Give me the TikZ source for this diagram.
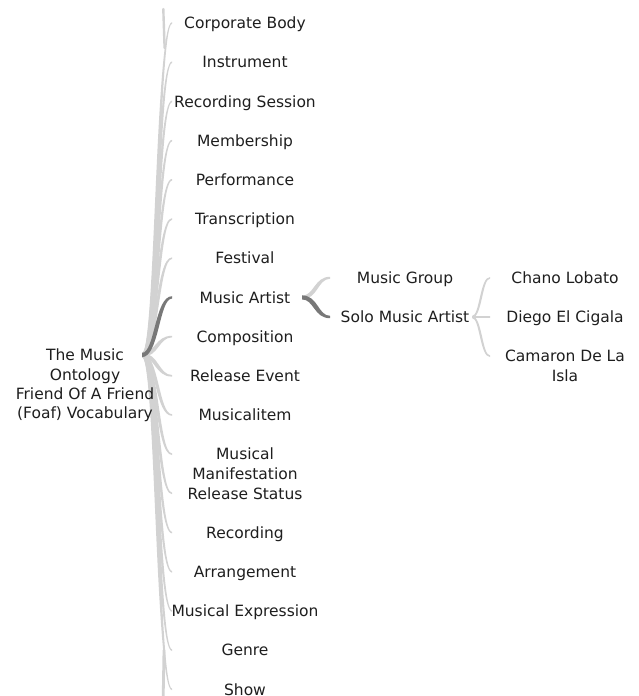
\documentclass[tikz,border=0pt]{standalone}
\usepackage{fontspec}
\setmainfont{DejaVu Sans}
\usetikzlibrary{calc}
\definecolor{linkc}{HTML}{D2D2D2}
\definecolor{linkd}{HTML}{787878}
\definecolor{txt}{HTML}{1E1E1E}
\newcommand\ribbon[5]{%
  \fill[#3] let \p1=(#1), \p2=(#2),
    \n1={(\x1+\x2)/2}, \n2={sign(\y1-\y2)}, \n3={(#4+#5)*0.65},
    \n4={\n1+\n2*\n3}, \n5={\n1-\n2*\n3} in
    (\x1,\y1+#4pt) .. controls (\n4*1pt,\y1+#4pt) and (\n4*1pt,\y2+#5pt) .. (\x2,\y2+#5pt)
    -- (\x2,\y2-#5pt) .. controls (\n5*1pt,\y2-#5pt) and (\n5*1pt,\y1-#4pt) .. (\x1,\y1-#4pt) -- cycle;}
\newcommand\lab[1]{\begin{tabular}[t]{@{}c@{}}#1\end{tabular}}
\begin{document}
\begin{tikzpicture}[x=1pt,y=-1pt,
  lbl/.style={anchor=base, inner sep=0pt, text=txt, font=\fontsize{15.5}{19.3}\selectfont}]
\useasboundingbox (0,0) rectangle (639,696);
% link anchor points
\coordinate (root-out) at (142,355);
\foreach \i in {0,...,17}{
  \pgfmathsetmacro\yy{23+39.2*\i}
  \coordinate (c\i-in) at (172,\yy);
}
\coordinate (ma-out) at (302,297.4);
\coordinate (mg-in) at (330,277.8);
\coordinate (sma-in) at (330,317);
\coordinate (sma-out) at (472,317);
\coordinate (cl-in) at (490,277.8);
\coordinate (dc-in) at (490,317);
\coordinate (cd-in) at (490,356.2);
% trunk ends
\coordinate (tt1) at (163.3,9);
\coordinate (tt2) at (164.6,48);
\coordinate (tb1) at (164,650);
\coordinate (tb2) at (163.2,697);
\draw[linkc, line width=2.4pt, line cap=round] (tt1) -- (tt2);
\draw[linkc, line width=2.8pt] (tb1) -- (tb2);
% links
\foreach \i in {0,1,2,3,4,5,6,8,9,10,11,12,13,14,15,16,17}{
  \ribbon{root-out}{c\i-in}{linkc}{1.9}{0.8}
}
\ribbon{ma-out}{mg-in}{linkc}{1.8}{1.0}
\ribbon{sma-out}{cl-in}{linkc}{1.0}{0.8}
\ribbon{sma-out}{dc-in}{linkc}{1.0}{0.8}
\ribbon{sma-out}{cd-in}{linkc}{1.0}{0.8}
\ribbon{root-out}{c7-in}{linkd}{2.1}{1.2}
\ribbon{ma-out}{sma-in}{linkd}{2.0}{1.2}
% nodes
\node[lbl] (root) at (85,360.7) {\lab{The Music\\Ontology\\Friend Of A Friend\\(Foaf) Vocabulary}};
\foreach \i/\t in {0/Corporate Body,1/Instrument,2/Recording Session,3/Membership,4/Performance,5/Transcription,6/Festival,7/Music Artist,8/Composition,9/Release Event,10/Musicalitem,11/{Musical\\Manifestation},12/Release Status,13/Recording,14/Arrangement,15/Musical Expression,16/Genre,17/Show}{
  \pgfmathsetmacro\yy{23+39.2*\i}
  \node[lbl] (c\i) at (245,\yy+5.7) {\lab{\t}};
}
\node[lbl] (mg) at (405,277.8+5.7) {\lab{Music Group}};
\node[lbl] (sma) at (405,317+5.7) {\lab{Solo Music Artist}};
\node[lbl] (cl) at (565,277.8+5.7) {\lab{Chano Lobato}};
\node[lbl] (dc) at (565,317+5.7) {\lab{Diego El Cigala}};
\node[lbl] (cd) at (565,356.2+5.7) {\lab{Camaron De La\\Isla}};
\end{tikzpicture}
\end{document}
